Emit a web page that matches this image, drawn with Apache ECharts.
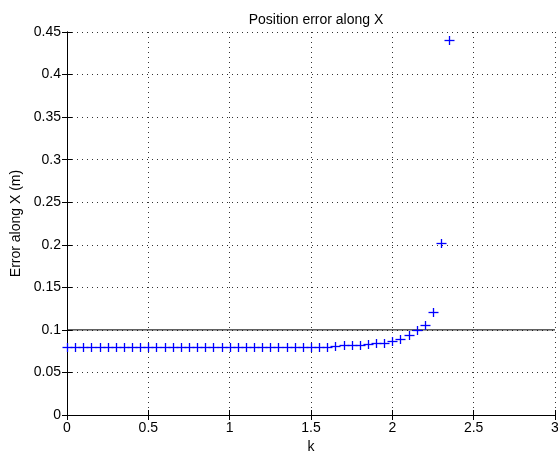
<!DOCTYPE html>
<html>
<head>
<meta charset="utf-8">
<script src="https://cdn.jsdelivr.net/npm/echarts@6/dist/echarts.min.js"></script>
<style>
  html, body { margin: 0; padding: 0; background: #fff; }
  #chart { width: 558px; height: 454px; }
</style>
</head>
<body>
<div id="chart"></div>
<script>
// k samples and the matching position error (m)
const kValues = [
  0, 0.05, 0.1, 0.15, 0.2, 0.25, 0.3, 0.35, 0.4, 0.45,
  0.5, 0.55, 0.6, 0.65, 0.7, 0.75, 0.8, 0.85, 0.9, 0.95,
  1, 1.05, 1.1, 1.15, 1.2, 1.25, 1.3, 1.35, 1.4, 1.45,
  1.5, 1.55, 1.6, 1.65, 1.7, 1.75, 1.8, 1.85, 1.9, 1.95,
  2, 2.05, 2.1, 2.15, 2.2, 2.25, 2.3, 2.35
];
const errorValues = [
  0.08, 0.08, 0.08, 0.08, 0.08, 0.08, 0.08, 0.08, 0.08, 0.08,
  0.08, 0.08, 0.08, 0.08, 0.08, 0.08, 0.08, 0.08, 0.08, 0.08,
  0.08, 0.08, 0.08, 0.08, 0.08, 0.08, 0.08, 0.08, 0.08, 0.08,
  0.08, 0.08, 0.08, 0.0816, 0.0818, 0.082, 0.0822, 0.0832, 0.0843, 0.0851,
  0.0871, 0.0898, 0.094, 0.0996, 0.1055, 0.1205, 0.202, 0.4405
];
const thresholdValue = 0.1;
const xRange = [0, 3];
const yRange = [0, 0.45];

const font = 'Liberation Sans, Arial, sans-serif';
const markerColor = '#0000ff';

const points = kValues.map((k, i) => [k, errorValues[i]]);

// matlab style '+' marker, centred on a pixel with a soft edge like the original
function renderPlus(params, api) {
    const p = api.coord([api.value(0), api.value(1)]);
    const cx = Math.round(p[0]) + 0.5;
    const cy = Math.round(p[1]) + 0.5;
    const style = { stroke: markerColor, lineWidth: 1.3 };
    return {
        type: 'group',
        children: [
            { type: 'line', shape: { x1: cx - 5, y1: cy, x2: cx + 5, y2: cy }, style: style },
            { type: 'line', shape: { x1: cx, y1: cy - 4.5, x2: cx, y2: cy + 4.5 }, style: style }
        ]
    };
}

const boxAxis = {
    axisLine: { show: true, lineStyle: { color: '#000', width: 1 } },
    axisTick: { show: true, inside: true, length: 5, lineStyle: { color: '#000' } },
    axisLabel: { show: false },
    splitLine: { show: false }
};

const gridLine = { show: true, lineStyle: { color: '#333', type: [1, 4], width: 1 } };

const chart = echarts.init(document.getElementById('chart'), null, { renderer: 'canvas' });
chart.setOption({
    animation: false,
    backgroundColor: '#fff',
    title: {
        text: 'Position error along X',
        left: 311,
        top: 8,
        textAlign: 'center',
        textStyle: { fontFamily: font, fontSize: 14, fontWeight: 'normal', color: '#000' }
    },
    grid: { left: 67, right: 3, top: 32, bottom: 39, containLabel: false, outerBoundsMode: 'none' },
    xAxis: [{
        type: 'value',
        min: xRange[0], max: xRange[1], interval: 0.5,
        name: 'k',
        nameLocation: 'middle',
        nameGap: 25,
        nameTextStyle: { fontFamily: font, fontSize: 14, color: '#000' },
        axisLine: { show: true, onZero: false, lineStyle: { color: '#000', width: 1 } },
        axisTick: { show: true, inside: true, length: 5, lineStyle: { color: '#000' } },
        axisLabel: { margin: 6, fontFamily: font, fontSize: 14, color: '#000' },
        splitLine: gridLine
    }, Object.assign({
        type: 'value', position: 'top',
        min: xRange[0], max: xRange[1], interval: 0.5
    }, boxAxis)],
    yAxis: [{
        type: 'value',
        min: yRange[0], max: yRange[1], interval: 0.05,
        name: 'Error along X (m)',
        nameLocation: 'middle',
        nameGap: 40,
        nameTextStyle: { fontFamily: font, fontSize: 14, color: '#000' },
        axisLine: { show: true, onZero: false, lineStyle: { color: '#000', width: 1 } },
        axisTick: { show: true, inside: true, length: 5, lineStyle: { color: '#000' } },
        axisLabel: { margin: 6, fontFamily: font, fontSize: 14, color: '#000' },
        splitLine: gridLine
    }, Object.assign({
        type: 'value', position: 'right',
        min: yRange[0], max: yRange[1], interval: 0.05
    }, boxAxis)],
    series: [{
        name: 'threshold',
        type: 'line',
        data: [[xRange[0], thresholdValue], [xRange[1], thresholdValue]],
        symbol: 'none',
        lineStyle: { color: '#000', width: 1 },
        z: 2
    }, {
        name: 'error',
        type: 'custom',
        data: points,
        renderItem: renderPlus,
        clip: false,
        z: 3
    }]
});
</script>
</body>
</html>
